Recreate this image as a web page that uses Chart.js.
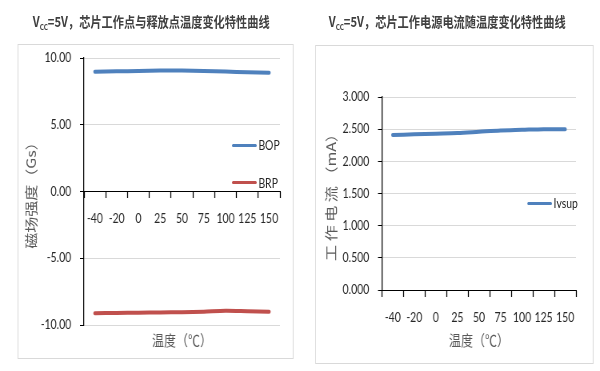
<!DOCTYPE html>
<html>
<head>
<meta charset="utf-8">
<script src="https://cdn.jsdelivr.net/npm/chart.js@4.4.1/dist/chart.umd.min.js"></script>
<style>
  html, body { margin: 0; padding: 0; background: #fff; }
  body { width: 600px; height: 371px; overflow: hidden; position: relative; }
  /* the reference is horizontally condensed, so draw wide and squeeze */
  #wrap { position: absolute; left: 0; top: 0; width: 750px; height: 371px; transform: scaleX(0.8); transform-origin: 0 0; }
  canvas { position: absolute; top: 0; }
  .frame { position: absolute; border: 1px solid #d9d9d9; border-left-width: 1.25px; border-right-width: 1.25px; box-sizing: border-box; }
  .title { position: absolute; top: 11px; line-height: 20px; transform: translateX(-50%); white-space: nowrap;
           font: bold 14px "Noto Sans CJK SC", sans-serif; color: #404040; }
  .title .sub { font-size: 8px; position: relative; top: 3px; }
  .legend { position: absolute; display: flex; align-items: center; line-height: 16px;
            font: 13px Lato, sans-serif; color: #262626; }
  .legend i { display: inline-block; width: 31px; height: 3px; border-radius: 2px; margin-right: 2px; }
</style>
</head>
<body>
<div id="wrap">
  <div class="frame" style="left:22px;top:44px;width:345px;height:315px"></div>
  <div class="frame" style="left:394px;top:45px;width:348px;height:319px"></div>
  <div class="title" style="left:189px">V<span class="sub">CC</span>=5V，芯片工作点与释放点温度变化特性曲线</div>
  <div class="title" style="left:559px">V<span class="sub">CC</span>=5V，芯片工作电源电流随温度变化特性曲线</div>
  <canvas id="left" width="375" height="371" style="left:0"></canvas>
  <canvas id="right" width="375" height="371" style="left:375px"></canvas>
  <div id="legend-left"></div>
  <div id="legend-right"></div>
</div>
<script>
const TEMPS = ["-40", "-20", "0", "25", "50", "75", "100", "125", "150"];
const BOP = [8.97, 9.00, 9.03, 9.06, 9.06, 9.03, 8.98, 8.94, 8.90];
const BRP = [-9.12, -9.10, -9.08, -9.06, -9.04, -9.00, -8.94, -8.97, -9.00];
const IVSUP = [2.41, 2.42, 2.43, 2.44, 2.46, 2.48, 2.49, 2.50, 2.50];

const BLUE = "#4f81bd";
const RED = "#c0504d";
const TICK_FONT = { family: "Lato, sans-serif", size: 13 };
const CJK_FONT = "'Noto Sans CJK SC', sans-serif";
const H = 371;

function makeChart(id, o) {
  return new Chart(document.getElementById(id), {
    type: "line",
    data: {
      labels: TEMPS,
      datasets: o.series.map((s) => ({
        label: s.label, data: s.data, xAxisID: "x", yAxisID: "y",
        borderColor: s.color, backgroundColor: s.color, borderWidth: 4,
        borderCapStyle: "round", pointRadius: 0, tension: 0.3,
      })),
    },
    options: {
      responsive: false,
      animation: false,
      layout: { padding: { top: o.plotTop, right: o.padRight, bottom: 0, left: 0 } },
      plugins: { legend: { display: false }, tooltip: { enabled: false } },
      scales: {
        x: {
          type: "category", position: { y: 0 }, offset: true,
          grid: { display: true, offset: true, drawOnChartArea: false, tickLength: 6, tickColor: "#000", tickWidth: 1.25 },
          border: { display: true, color: "#000", width: 1 },
          ticks: { autoSkip: false, maxRotation: 0, padding: 14, color: "#262626", font: TICK_FONT },
        },
        x2: {
          type: "category", position: "bottom",
          grid: { display: false, drawTicks: false }, border: { display: false }, ticks: { display: false },
          title: { display: true, text: "温度（℃）", color: "#595959", font: { family: CJK_FONT, size: 15 }, padding: { top: 0, bottom: 21.5 } },
          afterFit: (s) => { s.height = H - o.plotBottom; },
        },
        y: {
          type: "linear", min: o.yMin, max: o.yMax,
          grid: { color: "#d9d9d9", tickColor: "#000", tickLength: 5 },
          border: { display: true, color: "#000", width: 1.25 },
          ticks: { stepSize: o.yStep, padding: 11, color: "#262626", font: TICK_FONT, callback: (v) => v.toFixed(o.decimals) },
          title: { display: true, text: o.yTitle, color: "#595959", font: { family: CJK_FONT, size: 16 }, padding: { top: 29, bottom: 0 } },
          afterFit: (s) => { s.width = o.axisWidth; },
        },
      },
    },
  });
}

function renderLegend(elId, series, x, ys) {
  document.getElementById(elId).innerHTML = series.map((s, i) =>
    `<div class="legend" style="left:${x}px;top:${ys[i] - 8}px"><i style="background:${s.color}"></i>${s.label}</div>`
  ).join("");
}

const leftSeries = [
  { label: "BOP", data: BOP, color: BLUE },
  { label: "BRP", data: BRP, color: RED },
];
const rightSeries = [
  { label: "Ivsup", data: IVSUP, color: BLUE },
];

makeChart("left", {
  series: leftSeries, yMin: -10, yMax: 10, yStep: 5, decimals: 2, yTitle: "磁场强度（Gs）",
  plotTop: 58, plotBottom: 325, padRight: 25, axisWidth: 105,
});
makeChart("right", {
  series: rightSeries, yMin: 0, yMax: 3, yStep: 0.5, decimals: 3, yTitle: "工 作 电 流 （mA）",
  plotTop: 97, plotBottom: 290, padRight: 30, axisWidth: 102.5,
});

renderLegend("legend-left", leftSeries, 290, [145, 182.5]);
renderLegend("legend-right", rightSeries, 659, [203]);
</script>
</body>
</html>
